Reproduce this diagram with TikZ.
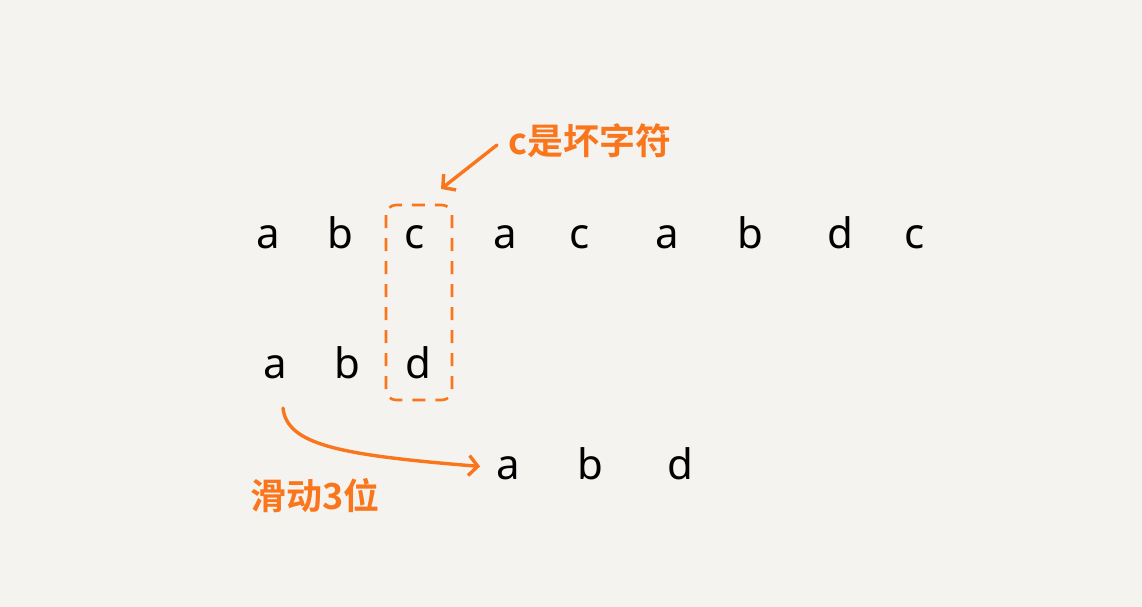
\documentclass[tikz,border=0pt]{standalone}
\usepackage{fontspec}
\setmainfont{Noto Sans}
\newfontfamily\cjk{Noto Sans CJK SC}[BoldFont={Noto Sans CJK SC Bold}]
\usetikzlibrary{arrows.meta}
\definecolor{bg}{RGB}{245,243,239}
\definecolor{hand}{RGB}{250,118,28}
\begin{document}
\begin{tikzpicture}[x=1pt,y=-1pt,
  ch/.style={font=\fontsize{42}{42}\selectfont, text=black, inner sep=0pt, anchor=base},
  note/.style={font=\cjk\bfseries\fontsize{36}{36}\selectfont, text=hand, inner sep=0pt, anchor=base},
  conn/.style={draw=hand, line width=3.4pt, line cap=round, -{Straight Barb[length=9pt,width=20pt,line width=3.4pt]}},
  box/.style={draw=hand, line width=2.6pt, dash pattern=on 13pt off 10pt, rounded corners=10pt}]
\fill[bg] (0,0) rectangle (1142,607);
\useasboundingbox (0,0) rectangle (1142,607);
% row 1
\node[ch] (t1) at (268,248) {a};
\node[ch] (t2) at (340,248) {b};
\node[ch] (t3) at (415,248) {c};
\node[ch] (t4) at (505,248) {a};
\node[ch] (t5) at (580,248) {c};
\node[ch] (t6) at (667,248) {a};
\node[ch] (t7) at (750,248) {b};
\node[ch] (t8) at (840,248) {d};
\node[ch] (t9) at (915,248) {c};
% row 2
\node[ch] (p1) at (275,378) {a};
\node[ch] (p2) at (347,378) {b};
\node[ch] (p3) at (418,378) {d};
% row 3
\node[ch] (q1) at (508,479) {a};
\node[ch] (q2) at (590,479) {b};
\node[ch] (q3) at (680,479) {d};
% dashed box
\draw[box] (386,205) rectangle (452,400);
% labels
\node[note] (bad) at (590,154) {c是坏字符};
\node[note] (slide) at (315,509) {滑动3位};
% arrows
\coordinate (badtail) at (497,145);
\coordinate (badtip) at (441,189);
\draw[conn] (badtail) -- (badtip);
\coordinate (slidetail) at (283,408);
\draw[conn, shorten >=16pt] (slidetail) .. controls (287,445) and (340,455) .. (q1.west);
\end{tikzpicture}
\end{document}
